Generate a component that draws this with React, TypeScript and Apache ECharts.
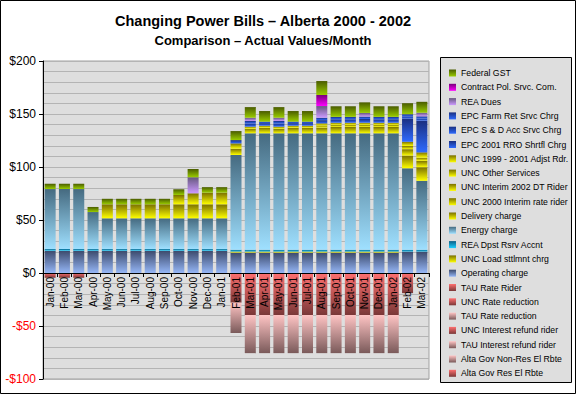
import React, { useEffect, useRef } from "react";
import * as echarts from "echarts";

const months = ["Jan-00","Feb-00","Mar-00","Apr-00","May-00","Jun-00","Jul-00","Aug-00","Sep-00","Oct-00","Nov-00","Dec-00","Jan-01","Feb-01","Mar-01","Apr-01","May-01","Jun-01","Jul-01","Aug-01","Sep-01","Oct-01","Nov-01","Dec-01","Jan-02","Feb-02","Mar-02"];

// positive components (bottom to top)
const operatingCharge = [21,21,21,21,21,21,21,21,21,21,21,21,21,19.3,19.3,19.3,19.3,19.3,19.3,19.3,19.3,19.3,19.3,19.3,19.3,20.3,20.3];
const uncLoadSttlmnt = [0,0,0,0,0,0,0,0,0,0,0,0,0,1,1,1,1,1,1,1,1,1,1,1,1,0,0];
const reaDpstRsrv = [1.6,1.6,1.6,1.6,1.6,1.6,1.6,1.6,1.6,1.6,1.6,1.6,1.6,1.6,1.6,1.6,1.6,1.6,1.6,1.6,1.6,1.6,1.6,1.6,1.6,1.6,1.6];
const energyCharge = [56.6,56.6,56.6,34.9,29,29,29,29,29,29,29,29,29,89.4,109.9,109.9,109.9,109.9,109.9,109.9,109.9,109.9,109.9,109.9,109.9,76.9,65.1];
const deliveryCharge = [0,0,0,0,13.2,13.2,13.2,13.2,13.2,13.2,13.2,13.2,13.2,6,4.3,5.2,4.3,5.2,5.2,5.4,6,6,6,6,6,12,12.8];
const unc2000Interim = [0,0,0,0,0,0,0,0,0,8.8,10.4,11,11,5,0,0,0,0,0,0,0,0,0,0,0,0,0];
const unc2002DT = [0,0,0,0,0,0,0,0,0,0,0,0,0,0,0,0,0,0,0,0,0,0,0,0,0,6,6];
const uncOtherServices = [0,0,0,0,0,0,0,0,0,0,0,0,0,0,2,2,2,2,2,2,2,2,2,2,2,3,3];
const unc1999Adjst = [0,0,0,0,0,0,0,0,0,0,0,0,0,0,0,0,0,0,0,2,2,2,2,2,2,4,5];
const epc2001RRO = [0,0,0,0,0,0,0,0,0,0,0,0,0,0,0,0,0,0,0,0,0,0,0,0,0,22,30];
const epcSDAcc = [0,0,0,0,0,0,0,0,0,0,0,0,0,3.1,3,2.4,3,2.4,2.4,3,3.2,3.2,3.5,3.2,3.2,2,2];
const epcFarmRet = [0,0,0,0,0,0,0,0,0,0,0,0,0,0,2.3,1.4,2.3,1.4,1.4,2.3,2.3,2.3,2.3,2.3,2.3,2,2];
const reaDues = [0,0,0,0,0,0,0,0,0,0,15.1,0,0,0,3.1,0,3.1,0,0,11,0,0,3.4,0,0,0,3.4];
const contractPol = [0,0,0,0,0,0,0,0,0,0,0,0,0,0,0,0,0,0,0,10.4,0,0,0,0,0,0,0];
const federalGST = [5,5,5,4.8,5.2,5.2,5.2,5.2,5.2,5.4,7.8,5.2,5.2,8.5,10,10,10,10,10,13.2,10,10,10,10,10,10.4,10.3];

// negative components (nearest zero first)
const altaGovRes = [0,0,0,0,0,0,0,0,0,0,0,0,0,-28,-39.6,-39.6,-39.6,-39.6,-39.6,-39.6,-39.6,-39.6,-39.6,-39.6,-39.6,0,0];
const altaGovNonRes = [0,0,0,0,0,0,0,0,0,0,0,0,0,-28.6,-36,-36,-36,-36,-36,-36,-36,-36,-36,-36,-36,0,0];
const tauInterestRefund = [0,0,0,0,0,0,0,0,0,0,0,0,0,0,0,0,0,0,0,0,0,0,0,0,0,0,0];
const uncInterestRefund = [0,0,0,0,0,0,0,0,0,0,0,0,0,0,0,0,0,0,0,0,0,0,0,0,0,-19,0];
const tauRateReduction = [0,0,0,0,0,0,0,0,0,0,0,0,0,0,0,0,0,0,0,0,0,0,0,0,0,0,0];
const uncRateReduction = [0,0,0,0,0,0,0,0,0,0,0,0,0,0,0,0,0,0,0,0,0,0,0,0,0,0,0];
const tauRateRider = [-4.5,-4.5,-4.5,0,0,0,0,0,0,0,0,0,0,0,0,0,0,0,0,0,0,0,0,0,0,0,0];

const FONT = '"Liberation Sans", Arial, sans-serif';

const grad = (top: string, bottom: string) =>
  new echarts.graphic.LinearGradient(0, 0, 0, 1, [
    { offset: 0, color: top },
    { offset: 1, color: bottom },
  ]);

const C = {
  operating: () => grad("#3c4a6c", "#95b6f6"),
  cyan: () => grad("#0b5f86", "#1fd0ff"),
  energy: () => grad("#456a80", "#9fe0ff"),
  yellow: () => grad("#7a7000", "#ffff00"),
  gst: () => grad("#4a5c00", "#9acd00"),
  blue: () => grad("#1a2f80", "#2f6bff"),
  purple: () => grad("#66587e", "#cc99ff"),
  magenta: () => grad("#7a007a", "#ff00ff"),
  red: () => grad("#ff7070", "#7a3838"),
  pink: () => grad("#ffc4c4", "#7a5a5a"),
};

const seriesDefs: [string, number[], () => any][] = [
  ["Alta Gov Res El Rbte", altaGovRes, C.red],
  ["Alta Gov Non-Res El Rbte", altaGovNonRes, C.pink],
  ["TAU Interest refund rider", tauInterestRefund, C.pink],
  ["UNC Interest refund rider", uncInterestRefund, C.red],
  ["TAU Rate reduction", tauRateReduction, C.pink],
  ["UNC Rate reduction", uncRateReduction, C.red],
  ["TAU Rate Rider", tauRateRider, C.red],
  ["Operating charge", operatingCharge, C.operating],
  ["UNC Load sttlmnt chrg", uncLoadSttlmnt, C.yellow],
  ["REA Dpst Rsrv Accnt", reaDpstRsrv, C.cyan],
  ["Energy charge", energyCharge, C.energy],
  ["Delivery charge", deliveryCharge, C.yellow],
  ["UNC 2000 Interim rate rider", unc2000Interim, C.yellow],
  ["UNC Interim 2002 DT Rider", unc2002DT, C.yellow],
  ["UNC Other Services", uncOtherServices, C.yellow],
  ["UNC 1999 - 2001 Adjst Rdr.", unc1999Adjst, C.yellow],
  ["EPC 2001 RRO Shrtfl Chrg", epc2001RRO, C.blue],
  ["EPC S & D Acc Srvc Chrg", epcSDAcc, C.blue],
  ["EPC Farm Ret Srvc Chrg", epcFarmRet, C.blue],
  ["REA Dues", reaDues, C.purple],
  ["Contract Pol. Srvc. Com.", contractPol, C.magenta],
  ["Federal GST", federalGST, C.gst],
];

export default function App() {
  const ref = useRef<HTMLDivElement>(null);
  useEffect(() => {
    if (!ref.current) return;
    const chart = echarts.init(ref.current, null, { renderer: "svg" });
    const series = seriesDefs.map(([name, data, col]) => ({
      name,
      type: "bar",
      stack: "total",
      data,
      barCategoryGap: "23%",
      itemStyle: { color: col() },
      emphasis: { disabled: true },
    }));
    chart.setOption({
      animation: false,
      backgroundColor: "#ffffff",
      textStyle: { fontFamily: FONT },
      grid: {
        left: 43,
        right: 147,
        top: 61,
        bottom: 15,
        show: true,
        backgroundColor: "#dedede",
        borderColor: "#a0a0a0",
        borderWidth: 1,
      },
      xAxis: {
        type: "category",
        data: months,
        z: 10,
        offset: -106,
        axisLine: { onZero: false, lineStyle: { color: "#000", width: 1 } },
        axisTick: { show: true, length: 4, lineStyle: { color: "#000" } },
        axisLabel: { interval: 0, rotate: 90, fontSize: 10, color: "#000", fontFamily: FONT, margin: 4 },
        splitLine: { show: false },
      },
      yAxis: {
        type: "value",
        min: -100,
        max: 200,
        interval: 50,
        axisLine: { show: true, lineStyle: { color: "#000" } },
        axisTick: { show: true, length: 4, lineStyle: { color: "#000" } },
        axisLabel: {
          fontSize: 12,
          fontFamily: FONT,
          margin: 7,
          formatter: (v: number) => (v < 0 ? "-$" + -v : "$" + v),
          color: (v: any) => (Number(v) < 0 ? "#ff0000" : "#000000"),
        },
        splitLine: { show: true, lineStyle: { color: "#b4b4b4" } },
        minorTick: { show: false, splitNumber: 5 },
        minorSplitLine: { show: true, lineStyle: { color: "#b4b4b4" } },
      },
      legend: {
        orient: "vertical",
        left: 444,
        top: 62,
        z: 10,
        itemWidth: 7,
        itemHeight: 7,
        itemGap: 2.3,
        icon: "rect",
        selectedMode: false,
        data: seriesDefs.map((d) => d[0]).reverse(),
        textStyle: { fontSize: 8.7, fontFamily: FONT, color: "#000", lineHeight: 12 },
      },
      graphic: [
        {
          type: "rect",
          z: 0,
          shape: { x: 440.5, y: 57.5, width: 131, height: 325 },
          style: { fill: "#dedede", stroke: "#000", lineWidth: 1 },
        },
        {
          type: "rect",
          z: 100,
          shape: { x: 0.5, y: 0.5, width: 575, height: 393 },
          style: { fill: "none", stroke: "#000", lineWidth: 1 },
        },
        {
          type: "text",
          x: 263,
          y: 21,
          style: {
            text: "Changing Power Bills \u2013 Alberta 2000 - 2002",
            fontSize: 14.5,
            fontWeight: "bold",
            fontFamily: FONT,
            fill: "#000",
            align: "center",
            verticalAlign: "middle",
          },
        },
        {
          type: "text",
          x: 263,
          y: 40,
          style: {
            text: "Comparison \u2013 Actual Values/Month",
            fontSize: 13,
            fontWeight: "bold",
            fontFamily: FONT,
            fill: "#000",
            align: "center",
            verticalAlign: "middle",
          },
        },
      ],
      series,
    });
    return () => chart.dispose();
  }, []);
  return <div ref={ref} style={{ position: "fixed", left: 0, top: 0, width: 576, height: 394 }} />;
}
